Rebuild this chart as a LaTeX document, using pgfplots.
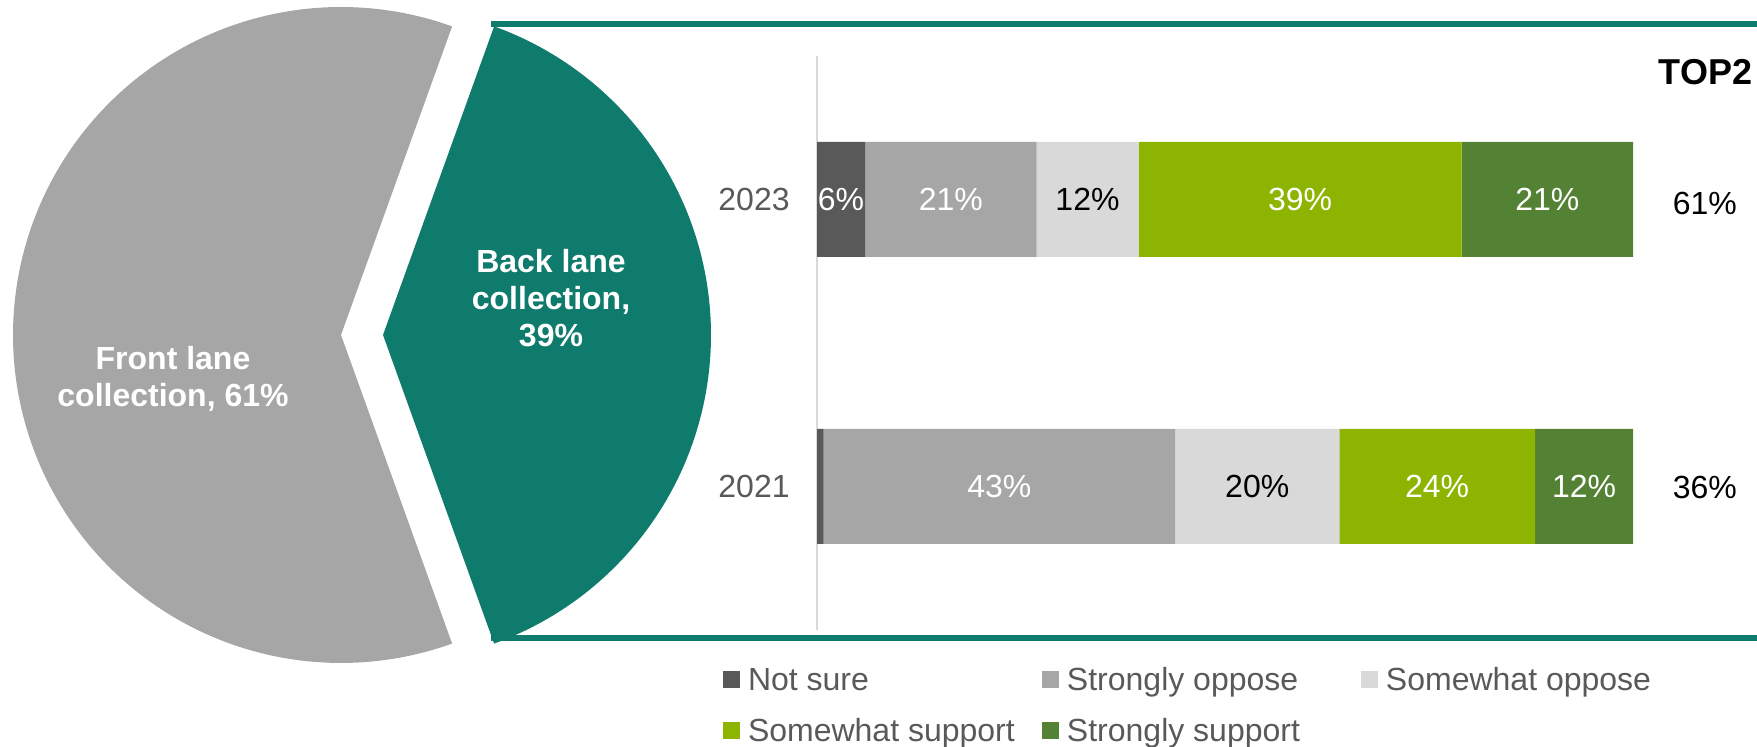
\documentclass[border=0pt]{standalone}
\usepackage{pgfplots}
\pgfplotsset{compat=1.18}
\usepackage{fontspec}
\setmainfont{Liberation Sans}
\definecolor{notsure}{HTML}{595959}
\definecolor{sopp}{HTML}{A6A6A6}
\definecolor{wopp}{HTML}{D9D9D9}
\definecolor{wsup}{HTML}{8DB400}
\definecolor{ssup}{HTML}{548235}
\definecolor{tealc}{HTML}{0F7B6C}
\definecolor{piegray}{HTML}{A6A6A6}
\definecolor{ticklab}{HTML}{595959}
\newcommand\lbl{\fontsize{16}{18.5}\selectfont}
\begin{document}
\begin{tikzpicture}
\useasboundingbox (0,0) rectangle (878.5pt,373.5pt);
% ---------- pie (pixel-like axis, y up) ----------
\pgfmathsetmacro\ha{39/100*180}
\pgfmathsetmacro\hb{360-\ha}
\begin{axis}[at={(0,0)}, anchor=south west, scale only axis,
  width=878.5pt, height=373.5pt, xmin=0, xmax=1757, ymin=0, ymax=747,
  hide axis, clip=false]
\draw[tealc, line width=2.7pt] (axis cs:491,723) -- (axis cs:1757,723);
\draw[tealc, line width=2.7pt] (axis cs:491,109) -- (axis cs:1757,109);
\addplot[fill=piegray, draw=none, domain=\ha:\hb, samples=180, variable=\t]
  ({341+328*cos(\t)},{412+328*sin(\t)}) -- (axis cs:341,412) -- cycle;
\addplot[fill=tealc, draw=none, domain=-\ha:\ha, samples=120, variable=\t]
  ({383+328*cos(\t)},{412+328*sin(\t)}) -- (axis cs:383,412) -- cycle;
\node[text=white, font=\lbl\bfseries, align=center] at (axis cs:551,449)
  {Back lane\\collection,\\39\%};
\node[text=white, font=\lbl\bfseries, align=center] at (axis cs:173,368.5)
  {Front lane\\collection, 61\%};
\end{axis}
% ---------- stacked bars ----------
\begin{axis}[at={(408.5pt,58.5pt)}, anchor=south west, scale only axis,
  width=408pt, height=287pt,
  xbar stacked, xmin=0, xmax=100, ymin=-0.5, ymax=1.5,
  bar width=57.5pt, clip=false,
  hide x axis, axis y line*=left,
  y axis line style={draw=wopp, line width=1pt},
  ytick={0,1}, yticklabels={2021,2023}, major tick length=0pt,
  yticklabel style={font=\lbl, text=ticklab, inner sep=0pt, xshift=-13.5pt},
  point meta=explicit symbolic,
  nodes near coords,
  every node near coord/.append style={font=\lbl, anchor=center, inner sep=0pt},
  legend columns=3,
  legend image code/.code={\fill[#1,draw=none] (0pt,-2.5pt) rectangle (8.5pt,6pt);},
  legend cell align=left,
  legend style={at={(axis description cs:-0.1152,-0.064)}, anchor=north west,
    draw=none, fill=none, font=\lbl, text=ticklab, inner sep=0pt, outer sep=0pt,
    /tikz/column sep=0pt, /tikz/row sep=9.5pt,
    nodes={inner sep=0pt, text height=12pt, text depth=4pt}},
]
\addplot[fill=notsure, draw=none, every node near coord/.append style={text=white}]
  coordinates {(0.8,0) [\relax] (5.9,1) [6\%]};
\addlegendentry{\makebox[151pt][l]{\hspace*{4pt}Not sure}}
\addplot[fill=sopp, draw=none, every node near coord/.append style={text=white}]
  coordinates {(43.1,0) [43\%] (21.0,1) [21\%]};
\addlegendentry{\makebox[151pt][l]{\hspace*{4pt}Strongly oppose}}
\addplot[fill=wopp, draw=none, every node near coord/.append style={text=black}]
  coordinates {(20.1,0) [20\%] (12.5,1) [12\%]};
\addlegendentry{\makebox[151pt][l]{\hspace*{4pt}Somewhat oppose}}
\addplot[fill=wsup, draw=none, every node near coord/.append style={text=white}]
  coordinates {(24.0,0) [24\%] (39.6,1) [39\%]};
\addlegendentry{\makebox[151pt][l]{\hspace*{4pt}Somewhat support}}
\addplot[fill=ssup, draw=none, every node near coord/.append style={text=white}]
  coordinates {(12.0,0) [12\%] (21.0,1) [21\%]};
\addlegendentry{\makebox[151pt][l]{\hspace*{4pt}Strongly support}}
\node[font=\fontsize{18}{20}\selectfont\bfseries, text=black] at (axis cs:108.9,1.444) {TOP2};
\node[font=\lbl, text=black] at (axis cs:108.8,0.985) {61\%};
\node[font=\lbl, text=black] at (axis cs:108.8,-0.003) {36\%};
\end{axis}
\end{tikzpicture}
\end{document}
